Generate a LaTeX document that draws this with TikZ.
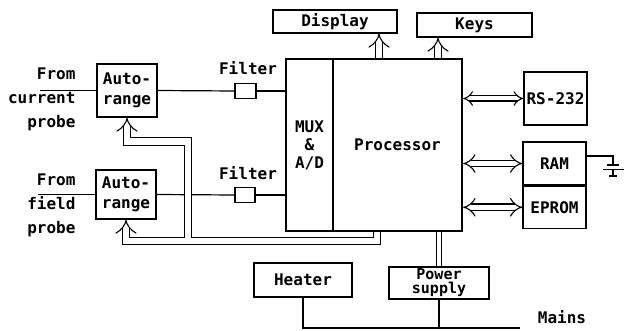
\documentclass[tikz,border=0pt]{standalone}
\usepackage{fontspec}
\newfontfamily\plotter{DejaVu Sans Mono}
\usetikzlibrary{arrows.meta,positioning,backgrounds}

\begin{document}
\begin{tikzpicture}[x=1pt,y=-1pt,
  lbl/.style={font=\plotter\bfseries\fontsize{16}{24}\selectfont},
  box/.style={draw,line width=1.3pt,inner sep=0pt,align=center,lbl},
  mainbox/.style={box,line width=2.4pt},
  wire/.style={line width=1.2pt},
  bus/.style={double,line width=1.1pt,double distance=6.5pt}]
\useasboundingbox (0,0) rectangle (626,331);
% main unit
\node[mainbox,minimum width=47,minimum height=172,font=\plotter\bfseries\fontsize{16}{18}\selectfont] (mux) at (309.5,145) {MUX\\\&\\A/D};
\node[mainbox,minimum width=129,minimum height=172] (proc) at (397.5,145) {Processor};
\node[box,minimum width=124,minimum height=23] (disp) at (335,21.5) {Display};
\node[box,minimum width=115,minimum height=24] (keys) at (474.5,25) {Keys};
\node[box,minimum width=63,minimum height=53] (rs) at (555.5,98.5) {RS-232};
\node[box,minimum width=63,minimum height=43] (ram) at (554.5,163.5) {RAM};
\node[box,minimum width=63,minimum height=42,below=0pt of ram] (eprom) {EPROM};
% input side
\node[box,minimum width=60,minimum height=53,font=\plotter\bfseries\fontsize{16}{20}\selectfont] (arA) at (127,90.5) {Auto-\\range};
\node[box,minimum width=60,minimum height=49,font=\plotter\bfseries\fontsize{16}{20}\selectfont] (arB) at (126,194.5) {Auto-\\range};
\node[lbl,align=right,anchor=east] (srcA) at (79,99) {From\\current\\probe};
\node[lbl,align=right,anchor=east] (srcB) at (79,205) {From\\field\\probe};
\node[box,minimum width=21,minimum height=15] (filtA) at (245.5,91) {};
\node[box,minimum width=20,minimum height=15] (filtB) at (245,195) {};
\node[lbl] (lfA) at (248,68) {Filter};
\node[lbl] (lfB) at (248,173) {Filter};
% supply
\node[box,minimum width=98,minimum height=34] (heat) at (303,280) {Heater};
\node[box,minimum width=100,minimum height=32,font=\plotter\bfseries\fontsize{15}{14}\selectfont] (psu) at (439,283) {Power\\supply};
\node[lbl] (mains) at (562,317) {Mains};
\coordinate (inA) at (40,90.5);
\coordinate (inB) at (38,194.5);
\coordinate (fbA) at (188,141.5);
\coordinate (fbB) at (377,241);
\coordinate (mainsend) at (520,328);
\coordinate (bat) at (613,164);

\begin{scope}[on background layer]
\draw[wire](inA)--(arA.west);
\draw[wire](inB)--(arB.west);
\draw[wire](arA.east)--(filtA.west);
\draw[wire](filtA.east)--(filtA.east-|mux.west);
\draw[wire](arB.east)--(filtB.west);
\draw[wire](filtB.east)--(filtB.east-|mux.west);
% feedback bus to both autoranges
\draw[bus]([yshift=-12pt]arA.south)|-(fbA)--(fbA|-fbB) (fbB|-proc.south)--(fbB)-|([yshift=-12pt]arB.south);
\draw[bus,-Implies]([yshift=-12pt]arA.south)--(arA.south);
\draw[bus,-Implies]([yshift=-12pt]arB.south)--(arB.south);
\draw[bus,-Implies]([xshift=-18.5pt]proc.north)--([xshift=-18.5pt]proc.north|-disp.south);
\draw[bus,-Implies]([xshift=40.5pt]proc.north)--([xshift=40.5pt]proc.north|-keys.south);
\draw[bus,double distance=4pt,Implies-Implies](proc.east|-rs)--(rs.west);
\draw[bus,double distance=5.5pt,Implies-Implies](proc.east|-ram)--(ram.west);
\draw[bus,double distance=5.5pt,Implies-Implies](proc.east|-eprom)--(eprom.west);
\draw[bus,double distance=4pt](psu.north)--(psu.north|-proc.south);
\draw[wire](heat.south)|-(mainsend);
\draw[wire](psu.south)--(psu.south|-mainsend);
% battery
\draw[wire]([shift={(0,-7.5)}]ram.east)-|(bat);
\draw[line width=2.4pt](bat)++(-6,1)--++(12,0);
\draw[wire](bat)++(-10,5.5)--++(21,0);
\draw[wire](bat)++(0,5.5)--++(0,6.5) ++(-4,0)--++(8,0);
\end{scope}
\end{tikzpicture}
\end{document}
